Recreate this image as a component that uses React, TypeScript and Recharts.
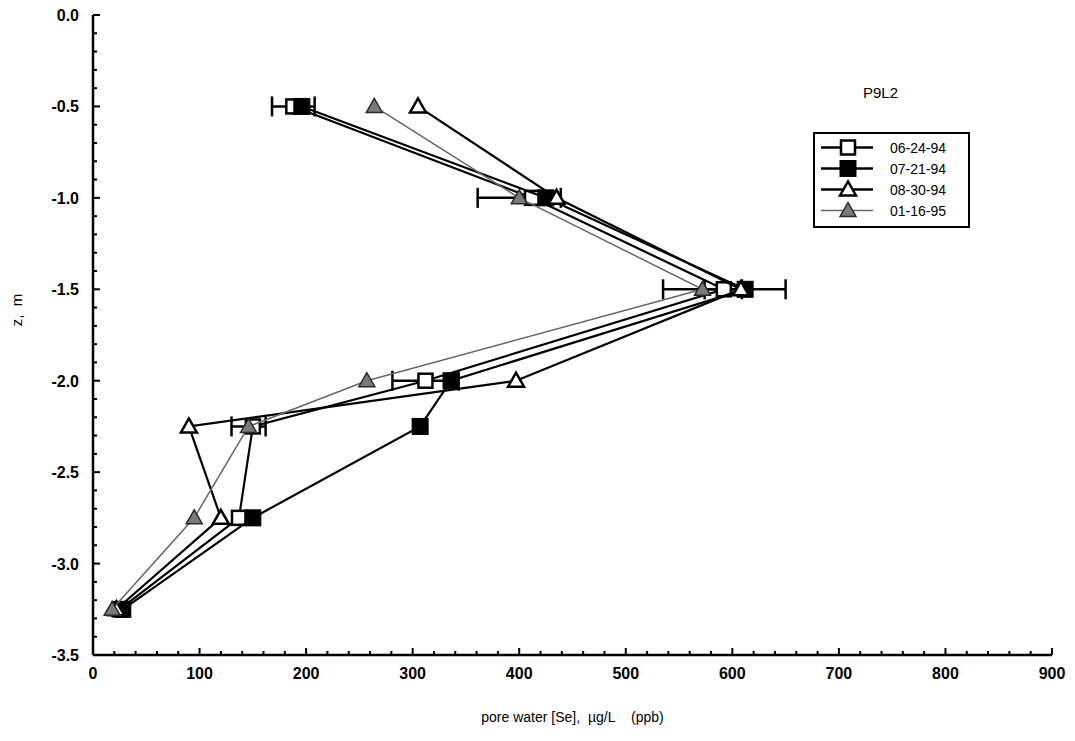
import React from 'react';
import { ScatterChart, Scatter, XAxis, YAxis, ErrorBar, Legend } from 'recharts';

const FONT = '"Liberation Sans", Arial, Helvetica, sans-serif';

// depth of each sample, m
const depths = [-0.5, -1.0, -1.5, -2.0, -2.25, -2.75, -3.25];
// pore water [Se], ug/L, per sampling date (with +/- spread where drawn)
const se062494 = [188, 412, 592, 312, 150, 137, 25];
const err062494 = [20, 0, 0, 31, 0, 0, 0];
const se072194 = [196, 425, 612, 336, 307, 150, 28];
const err072194 = [0, 0, 38, 0, 0, 0, 0];
const se083094 = [305, 435, 608, 397, 90, 120, 22];
const se011695 = [264, 400, 572, 257, 146, 95, 18];
const err011695 = [0, 39, 37, 0, 16, 0, 0];
const seriesNames = ['06-24-94', '07-21-94', '08-30-94', '01-16-95'];

const xTicks = Array.from({ length: 46 }, (_, i) => i * 20);
const yTicks = Array.from({ length: 36 }, (_, i) => -i / 10);

const toRows = (vals: number[], errs?: number[]) =>
  depths.map((z, i) => ({ x: vals[i], z, err: errs ? errs[i] : 0 }));

const isMajorY = (v: number) => Math.abs(v * 2 - Math.round(v * 2)) < 1e-9;

const BottomTick = (props: any) => {
  const { x, y, payload } = props;
  const v = payload.value;
  const major = v % 100 === 0;
  return (
    <g>
      <line x1={x} x2={x} y1={y} y2={y - (major ? 7 : 4)} stroke="#000" strokeWidth={2} />
      {major && (
        <text x={x} y={y + 24} textAnchor="middle" fontSize={16} fontWeight="bold" fontFamily={FONT} fill="#000">
          {v}
        </text>
      )}
    </g>
  );
};

const TopTick = (props: any) => {
  const { x, y, payload } = props;
  const major = payload.value % 100 === 0;
  return <line x1={x} x2={x} y1={y} y2={y + (major ? 7 : 4)} stroke="#000" strokeWidth={2} />;
};

const LeftTick = (props: any) => {
  const { x, y, payload } = props;
  const v = payload.value;
  const major = isMajorY(v);
  return (
    <g>
      <line x1={x} x2={x + (major ? 7 : 4)} y1={y} y2={y} stroke="#000" strokeWidth={2} />
      {major && (
        <text x={x - 14} y={y + 6} textAnchor="end" fontSize={16} fontWeight="bold" fontFamily={FONT} fill="#000">
          {v.toFixed(1)}
        </text>
      )}
    </g>
  );
};

const RightTick = (props: any) => {
  const { x, y, payload } = props;
  const major = isMajorY(payload.value);
  return <line x1={x} x2={x - (major ? 7 : 4)} y1={y} y2={y} stroke="#000" strokeWidth={2} />;
};

const OpenSquare = ({ cx, cy }: any) => (
  <rect x={cx - 7} y={cy - 7} width={14} height={14} fill="#fff" stroke="#000" strokeWidth={2.5} />
);
const FilledSquare = ({ cx, cy }: any) => (
  <rect x={cx - 8} y={cy - 8} width={16} height={16} fill="#000" stroke="#000" strokeWidth={1} />
);
const OpenTriangle = ({ cx, cy }: any) => (
  <polygon
    points={`${cx},${cy - 8} ${cx - 8},${cy + 6} ${cx + 8},${cy + 6}`}
    fill="#fff"
    stroke="#000"
    strokeWidth={2.5}
  />
);
const GrayTriangle = ({ cx, cy }: any) => (
  <polygon
    points={`${cx},${cy - 8} ${cx - 8},${cy + 6} ${cx + 8},${cy + 6}`}
    fill="#7a7a7a"
    stroke="#2a2a2a"
    strokeWidth={1.5}
  />
);

const legendItems = [
  { name: seriesNames[0], Marker: OpenSquare, stroke: '#000', width: 2.5 },
  { name: seriesNames[1], Marker: FilledSquare, stroke: '#000', width: 2.5 },
  { name: seriesNames[2], Marker: OpenTriangle, stroke: '#000', width: 2.5 },
  { name: seriesNames[3], Marker: GrayTriangle, stroke: '#666', width: 1.5 },
];

const LegendBox = () => (
  <div style={{ fontFamily: FONT, color: '#000' }}>
    <div style={{ fontSize: 15, height: 17, marginBottom: 31, paddingLeft: 50 }}>P9L2</div>
    <div style={{ border: '2px solid #000', padding: '3px 0 5px 3px', width: 150 }}>
      {legendItems.map(({ name, Marker, stroke, width }) => (
        <div key={name} style={{ display: 'flex', alignItems: 'center', height: 21 }}>
          <svg width={58} height={21}>
            <line x1={3} x2={55} y1={10.5} y2={10.5} stroke={stroke} strokeWidth={width} />
            <Marker cx={30} cy={10.5} />
          </svg>
          <span style={{ marginLeft: 14, fontSize: 14 }}>{name}</span>
        </div>
      ))}
    </div>
  </div>
);

const YLabel = () => (
  <text x={14} y={302} transform="rotate(-90 14 302)" textAnchor="middle" fontSize={15} fontFamily={FONT} fill="#000" stroke="none">
    {'z,\u00a0\u00a0m'}
  </text>
);

export default function App() {
  return (
    <ScatterChart width={1059} height={720} margin={{ top: 7, right: 15, bottom: 3, left: 25 }} style={{ overflow: 'visible' }}>
      <XAxis
        xAxisId="x"
        dataKey="x"
        type="number"
        domain={[0, 900]}
        allowDataOverflow
        ticks={xTicks}
        interval={0}
        tickSize={0}
        tickMargin={0}
        tick={BottomTick}
        height={70}
        axisLine={{ stroke: '#000', strokeWidth: 2.5 }}
        label={{
          value: 'pore water [Se],\u00a0\u00a0\u00b5g/L\u00a0\u00a0\u00a0\u00a0(ppb)',
          position: 'insideBottom',
          offset: 3,
          style: { fontSize: 14, fontFamily: FONT, fill: '#000' },
        }}
      />
      <XAxis
        xAxisId="t"
        dataKey="x"
        orientation="top"
        type="number"
        domain={[0, 900]}
        allowDataOverflow
        ticks={xTicks}
        interval={0}
        tickSize={0}
        tickMargin={0}
        tick={TopTick}
        height={0}
        axisLine={{ stroke: '#000', strokeWidth: 2.5 }}
      />
      <YAxis
        yAxisId="y"
        dataKey="z"
        type="number"
        domain={[-3.5, 0]}
        allowDataOverflow
        ticks={yTicks}
        interval={0}
        tickSize={0}
        tickMargin={0}
        tick={LeftTick}
        width={60}
        axisLine={{ stroke: '#000', strokeWidth: 2.5 }}
        label={YLabel}
      />
      <YAxis
        yAxisId="r"
        dataKey="z"
        orientation="right"
        type="number"
        domain={[-3.5, 0]}
        allowDataOverflow
        ticks={yTicks}
        interval={0}
        tickSize={0}
        tickMargin={0}
        tick={RightTick}
        width={0}
        axisLine={{ stroke: '#000', strokeWidth: 2.5 }}
      />
      <Legend
        layout="horizontal"
        verticalAlign="middle"
        align="center"
        content={LegendBox}
        wrapperStyle={{ position: 'absolute', left: 805, top: 76, width: 160 }}
      />
      <Scatter
        name={seriesNames[0]}
        data={toRows(se062494, err062494)}
        xAxisId="x"
        yAxisId="y"
        line={{ stroke: '#000', strokeWidth: 2.2 }}
        lineType="joint"
        shape={OpenSquare}
        isAnimationActive={false}
      >
        <ErrorBar dataKey="err" direction="x" width={10} stroke="#000" strokeWidth={2.5} />
      </Scatter>
      <Scatter
        name={seriesNames[1]}
        data={toRows(se072194, err072194)}
        xAxisId="x"
        yAxisId="y"
        line={{ stroke: '#000', strokeWidth: 2.2 }}
        lineType="joint"
        shape={FilledSquare}
        isAnimationActive={false}
      >
        <ErrorBar dataKey="err" direction="x" width={10} stroke="#000" strokeWidth={2.5} />
      </Scatter>
      <Scatter
        name={seriesNames[2]}
        data={toRows(se083094)}
        xAxisId="x"
        yAxisId="y"
        line={{ stroke: '#000', strokeWidth: 2.2 }}
        lineType="joint"
        shape={OpenTriangle}
        isAnimationActive={false}
      />
      <Scatter
        name={seriesNames[3]}
        data={toRows(se011695, err011695)}
        xAxisId="x"
        yAxisId="y"
        line={{ stroke: '#666', strokeWidth: 1.5 }}
        lineType="joint"
        shape={GrayTriangle}
        isAnimationActive={false}
      >
        <ErrorBar dataKey="err" direction="x" width={10} stroke="#000" strokeWidth={2.5} />
      </Scatter>
    </ScatterChart>
  );
}
